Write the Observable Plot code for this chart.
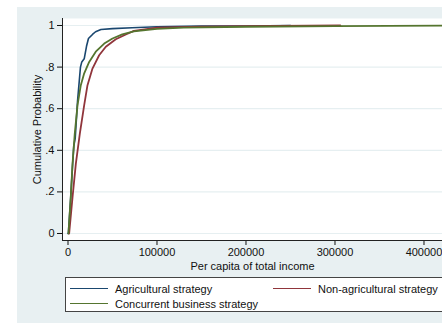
<!DOCTYPE html>
<html>
<head>
<meta charset="utf-8">
<script src="https://cdn.jsdelivr.net/npm/d3@7"></script>
<script src="https://cdn.jsdelivr.net/npm/@observablehq/plot@0.6"></script>
<style>
  html, body { margin: 0; padding: 0; background: #fff; }
  body { width: 442px; height: 323px; overflow: hidden; position: relative; font-family: "Liberation Sans", Arial, sans-serif; }
  #bg { position: absolute; left: 17px; top: 7px; width: 440px; height: 330px; background: #e8f0f2; }
  #chart { position: absolute; left: 0; top: 0; }
  #legend { position: absolute; left: 65px; top: 277px; width: 390px; height: 35px; background: #fff; border: 1px solid #444; box-sizing: border-box; font-size: 11px; color: #111; }
  .item { position: absolute; height: 14px; line-height: 14px; white-space: nowrap; }
  .sw { position: absolute; left: 0; top: 6px; width: 38px; height: 0; border-top: 1.6px solid; }
  .lab { position: absolute; left: 45px; top: 0; }
</style>
</head>
<body>
<div id="bg"></div>
<div id="chart"></div>
<div id="legend"></div>
<script>
// Series names
const seriesNames = ["Agricultural strategy", "Non-agricultural strategy", "Concurrent business strategy"];
const seriesColors = ["#1a476f", "#90353b", "#55752f"];

// Agricultural strategy (income, cumulative probability)
const agriX = [0, 500, 3000, 5000, 6500, 8100, 10700, 12600, 14000, 15500, 18200, 20800, 23000, 27500, 31000, 37000, 50000, 72000, 100000, 150000, 200000, 250000];
const agriY = [0, 0.005, 0.17, 0.32, 0.42, 0.457, 0.635, 0.73, 0.80, 0.825, 0.84, 0.90, 0.9375, 0.957, 0.97, 0.981, 0.985, 0.989, 0.994, 0.997, 0.998, 1];

// Non-agricultural strategy
const nonAgriX = [1300, 5100, 8800, 13300, 18200, 21900, 27500, 35000, 42500, 53700, 65000, 74000, 100000, 150000, 200000, 306000];
const nonAgriY = [0, 0.175, 0.335, 0.48, 0.617, 0.713, 0.793, 0.857, 0.898, 0.934, 0.957, 0.974, 0.99, 0.995, 0.997, 1];

// Concurrent business strategy
const concX = [500, 3100, 5100, 7600, 10700, 14400, 18200, 23800, 31200, 40700, 50000, 61000, 74000, 100000, 130000, 200000, 300000, 430000];
const concY = [0, 0.175, 0.335, 0.48, 0.617, 0.713, 0.77, 0.825, 0.874, 0.913, 0.9375, 0.957, 0.972, 0.984, 0.99, 0.994, 0.997, 1];

// Tick values
const xTicks = [0, 100000, 200000, 300000, 400000];
const xTickLabels = ["0", "100000", "200000", "300000", "400000"];
const yTicks = [0, 0.2, 0.4, 0.6, 0.8, 1];
const yTickLabels = ["0", ".2", ".4", ".6", ".8", "1"];

const xTitle = "Per capita of total income";
const yTitle = "Cumulative Probability";

const toRows = (xs, ys) => xs.map((x, i) => ({x, y: ys[i]}));
const agri = toRows(agriX, agriY);
const nonAgri = toRows(nonAgriX, nonAgriY);
const conc = toRows(concX, concY);

const xMin = -6180, xMax = 420800, yMin = -0.0337, yMax = 1.0337;

const chart = Plot.plot({
  width: 442,
  height: 323,
  marginTop: 18,
  marginBottom: 83,
  marginLeft: 62,
  marginRight: 0,
  style: {background: "transparent", fontFamily: "'Liberation Sans', Arial, sans-serif", fontSize: "11px", color: "#111"},
  x: {domain: [xMin, xMax], ticks: xTicks, tickFormat: d => xTickLabels[xTicks.indexOf(d)], tickSize: 5, tickPadding: 3, label: null},
  y: {domain: [yMin, yMax], ticks: yTicks, tickFormat: d => yTickLabels[yTicks.indexOf(d)], tickSize: 5, tickPadding: 3, label: null},
  marks: [
    Plot.frame({fill: "white", stroke: "none"}),
    Plot.ruleY(yTicks, {stroke: "#e6eff1", strokeWidth: 1.2, strokeOpacity: 1}),
    Plot.line(agri, {x: "x", y: "y", stroke: seriesColors[0], strokeWidth: 1.6}),
    Plot.line(nonAgri, {x: "x", y: "y", stroke: seriesColors[1], strokeWidth: 1.8}),
    Plot.line(conc, {x: "x", y: "y", stroke: seriesColors[2], strokeWidth: 1.8}),
    Plot.ruleX([xMin], {stroke: "#222", strokeWidth: 1}),
    Plot.ruleY([yMin], {stroke: "#222", strokeWidth: 1}),
    Plot.text([xTitle], {text: d => d, frameAnchor: "bottom", dy: 26, textAnchor: "middle", lineAnchor: "middle", fontSize: 11, fill: "#111"}),
    Plot.text([yTitle], {text: d => d, frameAnchor: "left", dx: -25, rotate: -90, textAnchor: "middle", lineAnchor: "middle", fontSize: 11, fill: "#111"})
  ]
});
document.getElementById("chart").appendChild(chart);

// Legend
const legend = document.getElementById("legend");
const legendPos = [[4, 4], [207, 4], [4, 19]];
seriesNames.forEach((name, i) => {
  const it = document.createElement("div");
  it.className = "item";
  it.style.left = legendPos[i][0] + "px";
  it.style.top = legendPos[i][1] + "px";
  const sw = document.createElement("div");
  sw.className = "sw";
  sw.style.borderTopColor = seriesColors[i];
  const lab = document.createElement("div");
  lab.className = "lab";
  lab.textContent = name;
  it.appendChild(sw);
  it.appendChild(lab);
  legend.appendChild(it);
});
</script>
</body>
</html>
